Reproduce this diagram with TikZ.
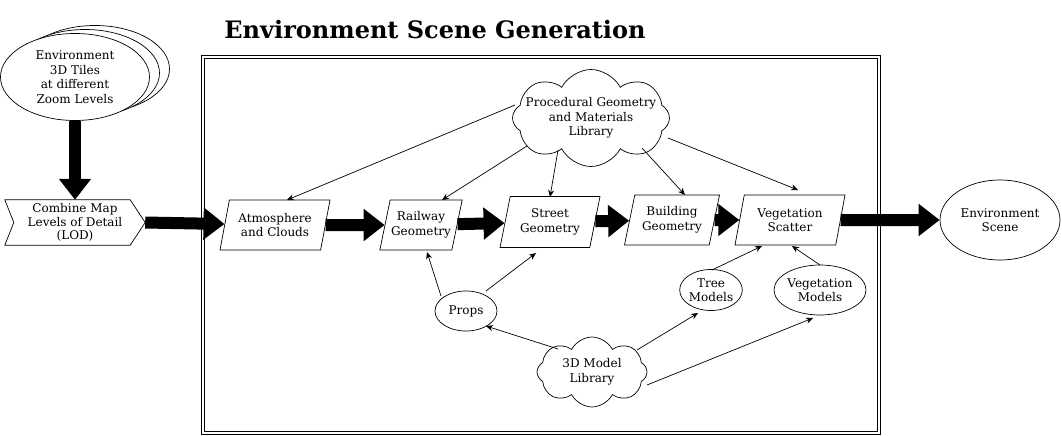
\documentclass[tikz,border=0pt]{standalone}
\usepackage{fontspec}
\setmainfont{DejaVu Serif}
\usetikzlibrary{shapes.geometric,shapes.symbols,arrows.meta}
\begin{document}
\begin{tikzpicture}[x=1pt,y=-1pt,
  every node/.style={font=\fontsize{12}{14.5}\selectfont, align=center},
  para/.style={draw, line width=0.7pt, trapezium, trapezium left angle=70, trapezium right angle=110, trapezium stretches body, minimum height=50pt, inner sep=1pt},
  ell/.style={draw, ellipse, line width=0.7pt, inner sep=0pt, fill=white},
  cloudy/.style={draw, cloud, cloud puffs=8, cloud puff arc=125, cloud ignores aspect, line width=0.7pt, inner sep=0pt},
  conn/.style={line width=0.7pt, -{Stealth[length=7pt,width=6pt]}},
  fat/.style={line width=12pt, -{Triangle[length=21pt,width=31pt]}},
  framestyle/.style={draw, line width=0.8pt}
]
\useasboundingbox (0,0) rectangle (1062,436);

% title and frame
\node[font=\fontsize{24}{28}\selectfont\bfseries] (title) at (435,30) {Environment Scene Generation};
\coordinate (fo1) at (201,55); \coordinate (fo2) at (880,434);
\coordinate (fi1) at (204,58); \coordinate (fi2) at (877,431);
\draw[framestyle] (fo1) rectangle (fo2);
\draw[framestyle] (fi1) rectangle (fi2);

% stacked tiles
\node[ell, minimum width=149pt, minimum height=87pt] (tiles3) at (95,69) {};
\node[ell, minimum width=149pt, minimum height=87pt] (tiles2) at (85,73) {};
\node[ell, minimum width=149pt, minimum height=87pt] (tiles) at (75,77) {Environment\\3D Tiles\\at different\\Zoom Levels};

% LOD chevron
\node[minimum width=140pt, minimum height=45pt, inner sep=0pt, font=\fontsize{12}{13.5}\selectfont] (lod) at (75,222.5) {Combine Map\\Levels of Detail\\(LOD)};
\draw[line width=0.7pt] (lod.north west) -- ([xshift=-15pt]lod.north east) -- (lod.east) -- ([xshift=-15pt]lod.south east) -- (lod.south west) -- ([xshift=9pt]lod.west) -- cycle;

% pipeline
\node[para, minimum width=110pt] (atm) at (275,225) {Atmosphere\\and Clouds};
\node[para, minimum width=82pt] (rail) at (421,225) {Railway\\Geometry};
\node[para, minimum width=100pt, minimum height=51pt] (street) at (550,222) {Street\\Geometry};
\node[para, minimum width=95pt] (build) at (672,220) {Building\\Geometry};
\node[para, minimum width=110pt] (veg) at (790,220) {Vegetation\\Scatter};
\node[ell, minimum width=120pt, minimum height=80pt] (env) at (1000,220) {Environment\\Scene};

% libraries and models
\node[cloudy, minimum width=157pt, minimum height=97pt, inner xsep=-16pt, inner ysep=-4pt] (proc) at (591,118) {Procedural Geometry\\and Materials\\Library};
\node[cloudy, minimum width=110pt, minimum height=70pt] (lib) at (592,372) {3D Model\\Library};
\node[ell, minimum width=62pt, minimum height=40pt] (props) at (466,311) {Props};
\node[ell, minimum width=61pt, minimum height=41pt] (tree) at (711,290) {Tree\\Models};
\node[ell, minimum width=81pt, minimum height=50pt] (vegm) at (820,290) {Vegetation\\Models};

% thick arrows
\draw[fat] (tiles.south) -- (lod.north);
\draw[fat] (lod.east) -- (atm);
\draw[fat] (atm) -- (rail);
\draw[fat] (rail) -- (street);
\draw[fat] (street) -- (build);
\draw[fat] (build) -- (veg);
\draw[fat] (veg) -- (env);

% thin arrows
\draw[conn] ([shift={(-76,-13)}]proc.center) -- ([shift={(12,-25)}]atm.center);
\draw[conn] ([shift={(-64,28)}]proc.center) -- ([shift={(21,-25)}]rail.center);
\draw[conn] ([shift={(-33,32)}]proc.center) -- ([shift={(0,-25)}]street.center);
\draw[conn] ([shift={(51,30)}]proc.center) -- ([shift={(13,-25)}]build.center);
\draw[conn] ([shift={(77,20)}]proc.center) -- ([shift={(8,-30)}]veg.center);
\draw[conn] ([shift={(-25,-15)}]props.center) -- ([shift={(6,27)}]rail.center);
\draw[conn] ([shift={(20,-20)}]props.center) -- ([shift={(-14,31)}]street.center);
\draw[conn] ([shift={(-34,-23)}]lib.center) -- ([shift={(20,15)}]props.center);
\draw[conn] ([shift={(45,-22)}]lib.center) -- ([shift={(-13,23)}]tree.center);
\draw[conn] ([shift={(55,13)}]lib.center) -- ([shift={(-7,28)}]vegm.center);
\draw[conn] ([shift={(1,-20)}]tree.center) -- ([shift={(-28,26)}]veg.center);
\draw[conn] ([shift={(0,-25)}]vegm.center) -- ([shift={(2,26)}]veg.center);
\end{tikzpicture}
\end{document}
